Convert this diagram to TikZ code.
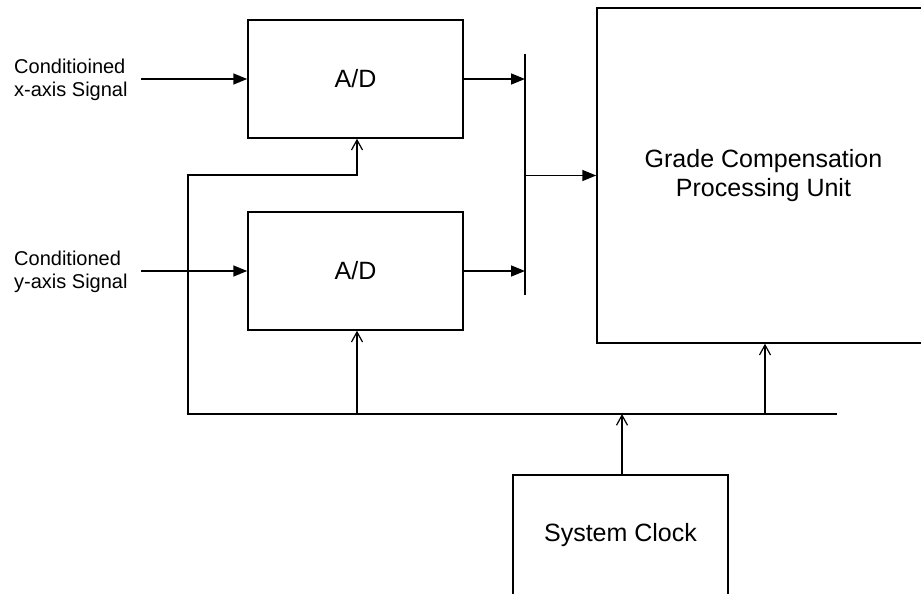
\documentclass[tikz,border=0pt]{standalone}
\usepackage{fontspec}
\setmainfont{Liberation Sans}
\usetikzlibrary{arrows.meta}
\begin{document}
\begin{tikzpicture}[x=1pt,y=-1pt,
  block/.style={draw,line width=1.5pt,minimum width=215pt,minimum height=118pt,
    inner sep=0pt,align=center,font=\fontsize{25}{29}\selectfont},
  wire/.style={line width=1.5pt},
  sig/.style={wire,-{Triangle[length=14pt,width=11pt]}},
  clk/.style={wire,-{Straight Barb[length=10pt,width=11pt,line width=1.2pt]}},
  lbl/.style={font=\fontsize{20}{23}\selectfont,align=left,anchor=west,inner sep=0pt}]
\clip (0,0) rectangle (921,594);

% converters, processing unit and clock
\node[block] (adx) at (355.5,79) {A/D};
\node[block] (ady) at (355.5,271) {A/D};
\node[block,minimum width=333pt,minimum height=335pt] (gcpu) at (763.5,175.5)
  {Grade Compensation\\Processing Unit};
\node[block,minimum height=120pt] (clock) at (620.5,535) {System Clock};

% input signals
\node[lbl] (xin) at (14,80) {Conditioined\\x-axis Signal};
\node[lbl] (yin) at (14,272) {Conditioned\\y-axis Signal};
\coordinate (xsrc) at (141,79);
\coordinate (ysrc) at (141,271);
\draw[sig] (xsrc) -- (adx.west);
\draw[sig] (ysrc) -- (ady.west);

% data bus into the processing unit
\coordinate (bustop) at (525,54);
\coordinate (busbot) at (525,295);
\draw[wire] (bustop) -- (busbot);
\draw[sig] (adx.east) -- (adx.east -| bustop);
\draw[sig] (ady.east) -- (ady.east -| bustop);
\draw[sig] (gcpu.west -| bustop) -- (gcpu.west);

% clock distribution
\coordinate (cl) at (188,414);
\coordinate (cr) at (837,414);
\coordinate (fb) at (188,175);
\coordinate (adtap) at (357,414);
\coordinate (gtap) at (765,414);
\coordinate (cktap) at (622,414);
\draw[clk,line join=miter] (cr) -- (cl) -- (fb) -| (adtap |- adx.south);
\draw[clk] (adtap) -- (adtap |- ady.south);
\draw[clk] (gtap) -- (gtap |- gcpu.south);
\draw[clk] (cktap |- clock.north) -- (cktap);
\end{tikzpicture}
\end{document}
